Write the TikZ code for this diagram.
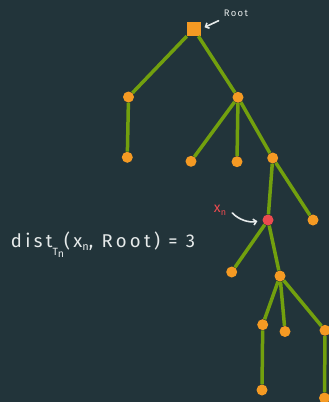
\documentclass[tikz,border=0pt]{standalone}
\usepackage{fontspec}
\setmainfont{Fira Sans}
\newfontfamily\chalkfont[LetterSpace=14]{Fira Sans}
\newfontfamily\widechalk[LetterSpace=18]{Fira Sans}
\usetikzlibrary{arrows.meta}

\definecolor{board}{HTML}{22343A}
\definecolor{branchgreen}{HTML}{72A00E}
\definecolor{leaforange}{HTML}{F59A23}
\definecolor{markred}{HTML}{EC4A4F}
\definecolor{chalk}{HTML}{E6EAEA}

\begin{document}
\begin{tikzpicture}[
  x=1pt, y=-1pt,
  vert/.style={circle, fill=leaforange, inner sep=0pt, minimum size=11pt},
  rootbox/.style={rectangle, fill=leaforange, inner sep=0pt, minimum size=14pt},
  marked/.style={vert, fill=markred},
  edge/.style={draw=branchgreen, line width=3.5pt},
  note/.style={-{Straight Barb[length=3pt,width=6pt]}, draw=chalk,
               line width=1.6pt, line cap=round},
  chalktext/.style={text=chalk, font=\widechalk\fontsize{18.5}{20}\selectfont}
]
  \fill[board] (0,0) rectangle (329,402);
  \useasboundingbox (0,0) rectangle (329,402);

  % tree
  \node[rootbox] (root) at (193.7,29) {};
  \node[vert] (l1)    at (128.5,97) {};
  \node[vert] (r1)    at (238,97.3) {};
  \node[vert] (l1a)   at (127.3,157.3) {};
  \node[vert] (r1a)   at (191,161.3) {};
  \node[vert] (r1b)   at (237,161.7) {};
  \node[vert] (r1c)   at (272.7,158) {};
  \node[marked] (xn)  at (268,220) {};
  \node[vert] (r1cb)  at (313,220) {};
  \node[vert] (xnl)   at (231.7,272) {};
  \node[vert] (xnr)   at (280,276) {};
  \node[vert] (xnra)  at (262.7,324.7) {};
  \node[vert] (xnrb)  at (285,331.5) {};
  \node[vert] (xnrc)  at (325,330.3) {};
  \node[vert] (xnraa) at (262,390) {};
  \node[vert] (xnrcc) at (324.5,398) {};

  \draw[edge] (root) -- (l1);
  \draw[edge] (root) -- (r1);
  \draw[edge] (l1) -- (l1a);
  \draw[edge] (r1) -- (r1a);
  \draw[edge] (r1) -- (r1b);
  \draw[edge] (r1) -- (r1c);
  \draw[edge] (r1c) -- (xn);
  \draw[edge] (r1c) -- (r1cb);
  \draw[edge] (xn) -- (xnl);
  \draw[edge] (xn) -- (xnr);
  \draw[edge] (xnr) -- (xnra);
  \draw[edge] (xnr) -- (xnrb);
  \draw[edge] (xnr) -- (xnrc);
  \draw[edge] (xnra) -- (xnraa);
  \draw[edge] (xnrc) -- (xnrcc);

  % labels
  \node[text=chalk, font=\chalkfont\fontsize{9.5}{11}\selectfont] (rootlbl) at (236,13) {Root};
  \draw[note, shorten <=2pt, shorten >=4pt] (rootlbl.south west) -- (root.east);

  \node[text=markred, font=\chalkfont\fontsize{14}{16}\selectfont] (xlbl) at (220,210) {x\raisebox{-3pt}{\fontsize{9}{10}\selectfont n}};
  \draw[note, shorten <=4pt, shorten >=5pt] (xlbl.east) to[bend right=30] (xn.west);

  \node[chalktext] (dist) at (103,245)
    {dist\raisebox{-8pt}{\fontsize{10.5}{12}\selectfont T\raisebox{-2pt}{n}}(x\raisebox{-3pt}{\fontsize{11}{12}\selectfont n}, Root) = 3};
\end{tikzpicture}
\end{document}
